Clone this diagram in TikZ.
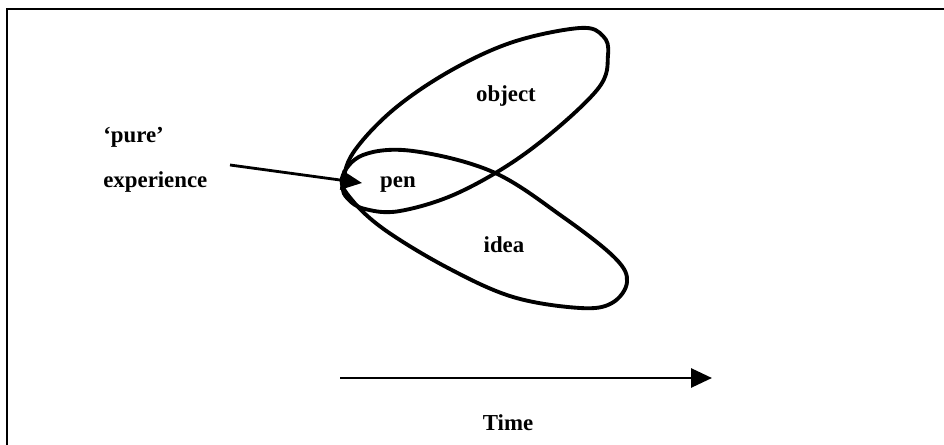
\documentclass[tikz,border=0pt]{standalone}
\usepackage{fontspec}
\setmainfont{Liberation Serif}
\usetikzlibrary{arrows.meta,positioning}

\begin{document}
\begin{tikzpicture}[
    x=0.02cm, y=-0.02cm,
    label/.style={font=\fontsize{13}{15}\selectfont\bfseries, inner sep=0pt},
    loop/.style={line width=2.2pt, line join=round},
    arrow/.style={-{Triangle[length=0.42cm, width=0.38cm]}, line width=1.6pt},
]
    \useasboundingbox (0,0) rectangle (944,445);
    % frame (only top and left edge show)
    \draw[line width=1.5pt] (7,445) -- (7,9) -- (944,9);

    % object and idea loops
    \draw[loop] plot[smooth cycle, tension=0.6] coordinates {
        (343,185) (353,153) (393,110) (450,71) (513,42) (580,28)
        (603,36) (608,55) (597,90) (530,150) (460,192) (400,211)
        (365,209) (348,199)};
    \draw[loop] plot[smooth cycle, tension=0.6] coordinates {
        (342,178) (363,155) (413,151) (493,172) (563,217) (615,258)
        (627,282) (612,303) (580,308) (513,297) (448,268) (385,230)
        (352,200)};

    \node[label, anchor=base west] (pure) at (103,143) {`pure'};
    \node[label, anchor=base west] (exper) at (103,188) {experience};
    \node[label, anchor=base] (pen) at (398,188) {pen};
    \node[label, anchor=base] (object) at (506,102) {object};
    \node[label, anchor=base] (idea) at (504,253) {idea};
    \node[label, anchor=base] (time) at (508,431) {Time};

    \coordinate (pstart) at (230,165);
    \coordinate (ptip) at (362,183);
    \coordinate (tstart) at (340,378);
    \coordinate (tend) at (712,378);

    \draw[arrow] (pstart) -- (ptip);
    \draw[arrow] (tstart) -- (tend);
\end{tikzpicture}
\end{document}
